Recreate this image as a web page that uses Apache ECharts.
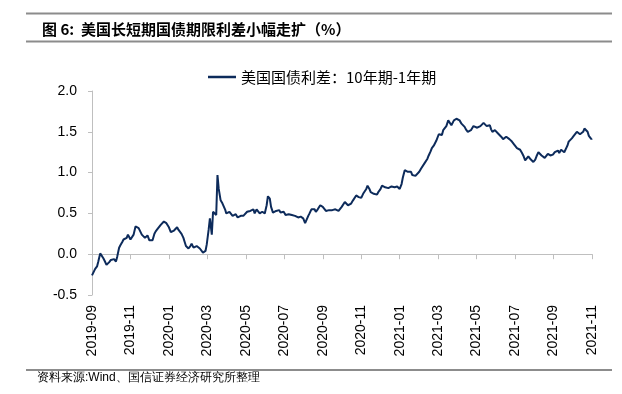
<!DOCTYPE html>
<html><head><meta charset="utf-8">
<script src="https://cdn.jsdelivr.net/npm/echarts@6/dist/echarts.min.js"></script>
<style>html,body{margin:0;padding:0;background:#fff}#c{width:622px;height:394px}</style>
</head><body><div id="c"></div>
<script>
const titleText = '图 6:  美国长短期国债期限利差小幅走扩（%）';
const sourceText = '资料来源:Wind、国信证券经济研究所整理';
const seriesName = '美国国债利差：10年期-1年期';
const startDate = '2019-09-01';
const endDate = '2021-11-02';
const xTickLabels = ['2019-09','2019-11','2020-01','2020-03','2020-05','2020-07','2020-09','2020-11','2021-01','2021-03','2021-05','2021-07','2021-09','2021-11'];
const xTickStepDays = 61;
const yMin = -0.5, yMax = 2.0, yStep = 0.5;

const dates = [
 '2019-09-01','2019-09-04','2019-09-06','2019-09-09','2019-09-11','2019-09-14','2019-09-16','2019-09-19','2019-09-21','2019-09-24','2019-09-26','2019-09-28',
 '2019-10-01','2019-10-04','2019-10-06','2019-10-09','2019-10-11','2019-10-14','2019-10-16','2019-10-19','2019-10-21','2019-10-24','2019-10-26','2019-10-28',
 '2019-11-01','2019-11-04','2019-11-06','2019-11-09','2019-11-11','2019-11-14','2019-11-16','2019-11-19','2019-11-21','2019-11-24','2019-11-26','2019-11-28',
 '2019-12-01','2019-12-04','2019-12-06','2019-12-09','2019-12-11','2019-12-14','2019-12-16','2019-12-19','2019-12-21','2019-12-24','2019-12-26','2019-12-28',
 '2020-01-01','2020-01-04','2020-01-06','2020-01-09','2020-01-11','2020-01-14','2020-01-16','2020-01-19','2020-01-21','2020-01-24','2020-01-26','2020-01-28',
 '2020-02-01','2020-02-04','2020-02-06','2020-02-09','2020-02-11','2020-02-14','2020-02-16','2020-02-19','2020-02-21','2020-02-24','2020-02-26','2020-02-28',
 '2020-03-01','2020-03-04','2020-03-06','2020-03-09','2020-03-11','2020-03-13','2020-03-16','2020-03-18','2020-03-20','2020-03-23','2020-03-26','2020-03-30',
 '2020-04-01','2020-04-04','2020-04-06','2020-04-09','2020-04-11','2020-04-14','2020-04-16','2020-04-19','2020-04-21','2020-04-24','2020-04-26','2020-04-28',
 '2020-05-01','2020-05-04','2020-05-06','2020-05-09','2020-05-11','2020-05-14','2020-05-16','2020-05-19','2020-05-21','2020-05-24','2020-05-26','2020-05-28',
 '2020-06-01','2020-06-04','2020-06-06','2020-06-09','2020-06-11','2020-06-14','2020-06-16','2020-06-19','2020-06-21','2020-06-24','2020-06-26','2020-06-28',
 '2020-07-01','2020-07-04','2020-07-06','2020-07-09','2020-07-11','2020-07-14','2020-07-16','2020-07-19','2020-07-21','2020-07-24','2020-07-26','2020-07-28',
 '2020-08-01','2020-08-04','2020-08-06','2020-08-09','2020-08-11','2020-08-14','2020-08-16','2020-08-19','2020-08-21','2020-08-24','2020-08-26','2020-08-28',
 '2020-09-01','2020-09-04','2020-09-06','2020-09-09','2020-09-11','2020-09-14','2020-09-16','2020-09-19','2020-09-21','2020-09-24','2020-09-26','2020-09-28',
 '2020-10-01','2020-10-04','2020-10-06','2020-10-09','2020-10-11','2020-10-14','2020-10-16','2020-10-19','2020-10-21','2020-10-24','2020-10-26','2020-10-28',
 '2020-11-01','2020-11-04','2020-11-06','2020-11-09','2020-11-11','2020-11-14','2020-11-16','2020-11-19','2020-11-21','2020-11-24','2020-11-26','2020-11-28',
 '2020-12-01','2020-12-04','2020-12-06','2020-12-09','2020-12-11','2020-12-14','2020-12-16','2020-12-19','2020-12-21','2020-12-24','2020-12-26','2020-12-28',
 '2021-01-01','2021-01-04','2021-01-06','2021-01-09','2021-01-11','2021-01-14','2021-01-16','2021-01-19','2021-01-21','2021-01-24','2021-01-26','2021-01-28',
 '2021-02-01','2021-02-04','2021-02-06','2021-02-09','2021-02-11','2021-02-14','2021-02-16','2021-02-19','2021-02-21','2021-02-24','2021-02-26','2021-02-28',
 '2021-03-01','2021-03-04','2021-03-06','2021-03-09','2021-03-11','2021-03-14','2021-03-16','2021-03-19','2021-03-21','2021-03-24','2021-03-26','2021-03-28',
 '2021-04-01','2021-04-04','2021-04-06','2021-04-09','2021-04-11','2021-04-14','2021-04-16','2021-04-19','2021-04-21','2021-04-24','2021-04-26','2021-04-28',
 '2021-05-01','2021-05-04','2021-05-06','2021-05-09','2021-05-11','2021-05-14','2021-05-16','2021-05-19','2021-05-21','2021-05-24','2021-05-26','2021-05-28',
 '2021-06-01','2021-06-04','2021-06-06','2021-06-09','2021-06-11','2021-06-14','2021-06-16','2021-06-19','2021-06-21','2021-06-24','2021-06-26','2021-06-28',
 '2021-07-01','2021-07-04','2021-07-06','2021-07-09','2021-07-11','2021-07-14','2021-07-16','2021-07-19','2021-07-21','2021-07-24','2021-07-26','2021-07-28',
 '2021-08-01','2021-08-04','2021-08-06','2021-08-09','2021-08-11','2021-08-14','2021-08-16','2021-08-19','2021-08-21','2021-08-24','2021-08-26','2021-08-28',
 '2021-09-01','2021-09-04','2021-09-06','2021-09-09','2021-09-11','2021-09-14','2021-09-16','2021-09-19','2021-09-21','2021-09-24','2021-09-26','2021-09-28',
 '2021-10-01','2021-10-04','2021-10-06','2021-10-09','2021-10-11','2021-10-14','2021-10-16','2021-10-19','2021-10-21','2021-10-24','2021-10-26','2021-10-28',
 '2021-11-01','2021-11-02'
];
const spread = [
 -0.26,-0.24,-0.18,-0.15,-0.09,0.01,0.00,-0.05,-0.08,-0.13,-0.12,-0.10,
 -0.07,-0.07,-0.06,-0.09,-0.03,0.08,0.11,0.15,0.18,0.20,0.20,0.24,
 0.18,0.20,0.24,0.34,0.35,0.32,0.31,0.24,0.22,0.20,0.21,0.23,
 0.17,0.15,0.17,0.25,0.28,0.31,0.32,0.36,0.38,0.40,0.39,0.38,
 0.33,0.27,0.26,0.29,0.30,0.33,0.30,0.28,0.25,0.20,0.15,0.10,
 0.07,0.10,0.13,0.08,0.09,0.10,0.11,0.07,0.06,0.02,0.02,0.04,
 0.12,0.30,0.44,0.24,0.52,0.50,0.48,0.97,0.80,0.66,0.62,0.55,
 0.50,0.49,0.52,0.53,0.47,0.49,0.49,0.45,0.43,0.47,0.46,0.47,
 0.48,0.52,0.53,0.53,0.55,0.55,0.50,0.55,0.53,0.50,0.50,0.52,
 0.50,0.60,0.71,0.68,0.58,0.51,0.52,0.53,0.53,0.54,0.51,0.50,
 0.52,0.48,0.48,0.49,0.49,0.48,0.47,0.47,0.47,0.45,0.45,0.46,
 0.44,0.38,0.40,0.47,0.50,0.55,0.57,0.55,0.52,0.55,0.57,0.60,
 0.58,0.57,0.53,0.53,0.54,0.55,0.54,0.56,0.55,0.55,0.53,0.53,
 0.58,0.60,0.64,0.65,0.60,0.60,0.62,0.66,0.65,0.72,0.71,0.70,
 0.69,0.74,0.75,0.80,0.84,0.80,0.76,0.77,0.74,0.72,0.73,0.76,
 0.79,0.84,0.83,0.82,0.80,0.81,0.81,0.83,0.82,0.82,0.81,0.83,
 0.80,0.86,0.94,1.03,1.03,1.01,1.00,1.01,0.97,0.96,0.96,0.94,
 1.01,1.05,1.07,1.11,1.12,1.17,1.21,1.26,1.30,1.33,1.36,1.39,
 1.41,1.47,1.47,1.46,1.52,1.54,1.57,1.64,1.64,1.58,1.60,1.64,
 1.66,1.66,1.64,1.60,1.61,1.56,1.53,1.50,1.50,1.52,1.53,1.57,
 1.58,1.55,1.55,1.57,1.58,1.61,1.59,1.57,1.58,1.58,1.53,1.50,
 1.52,1.52,1.48,1.46,1.44,1.41,1.43,1.44,1.42,1.41,1.42,1.38,
 1.35,1.36,1.30,1.28,1.28,1.24,1.21,1.15,1.17,1.20,1.18,1.16,
 1.13,1.16,1.20,1.25,1.25,1.21,1.20,1.18,1.19,1.23,1.23,1.21,
 1.22,1.25,1.26,1.27,1.24,1.28,1.26,1.25,1.27,1.33,1.38,1.40,
 1.42,1.45,1.47,1.50,1.48,1.47,1.47,1.50,1.54,1.54,1.50,1.45,
 1.41,1.42
];

const DAY = 86400000;
const t0 = Date.parse(startDate);
const dayIndex = d => Math.round((Date.parse(d) - t0) / DAY);
const seriesData = dates.map((d, i) => [dayIndex(d), spread[i]]);
const xMax = dayIndex(endDate);

const chart = echarts.init(document.getElementById('c'), null, {renderer: 'canvas'});
const latin = 'Liberation Sans, Arial, sans-serif';
const cjk = 'Noto Sans CJK SC, sans-serif';
const axisGray = '#bfbfbf';
const xLabelFmt = v => xTickLabels[Math.round(v / xTickStepDays)] || '';

chart.setOption({
  animation: false,
  backgroundColor: '#fff',
  title: {
    text: titleText, left: 37, top: 17,
    textStyle: {fontSize: 15, fontWeight: 'bold', color: '#000', fontFamily: cjk}
  },
  graphic: [
    {type: 'line', shape: {x1: 26, y1: 13.5, x2: 612, y2: 13.5}, style: {stroke: '#8c8c8c', lineWidth: 2}},
    {type: 'line', shape: {x1: 26, y1: 41.5, x2: 612, y2: 41.5}, style: {stroke: '#8c8c8c', lineWidth: 2}},
    {type: 'line', shape: {x1: 26, y1: 370, x2: 612, y2: 370}, style: {stroke: '#8c8c8c', lineWidth: 2}},
    {type: 'text', left: 37, top: 372, style: {text: sourceText, fontSize: 12, fill: '#000', font: '12px ' + cjk}}
  ],
  legend: {
    left: 203, top: 64, icon: 'rect', itemWidth: 28, itemHeight: 2.5,
    textStyle: {fontSize: 15, color: '#000', fontFamily: cjk, lineHeight: 16},
    data: [seriesName]
  },
  grid: {left: 92, width: 500, top: 91, bottom: 99, containLabel: false},
  xAxis: [
    {
      type: 'value', min: 0, max: xMax, interval: xTickStepDays, position: 'bottom',
      axisLine: {show: true, onZero: true, lineStyle: {color: axisGray, width: 1}},
      axisTick: {show: true, length: 5, lineStyle: {color: axisGray}},
      axisLabel: {show: false}, splitLine: {show: false}
    },
    {
      type: 'value', min: 0, max: xMax, interval: xTickStepDays, position: 'bottom',
      axisLine: {show: false, onZero: false}, axisTick: {show: false}, splitLine: {show: false},
      axisLabel: {show: true, rotate: 90, margin: 10, fontSize: 14, color: '#000', fontFamily: latin, formatter: xLabelFmt}
    }
  ],
  yAxis: {
    type: 'value', min: yMin, max: yMax, interval: yStep,
    axisLine: {show: true, lineStyle: {color: axisGray, width: 1}},
    axisTick: {show: true, length: 4, lineStyle: {color: axisGray}},
    axisLabel: {fontSize: 14, color: '#000', fontFamily: latin, margin: 15, formatter: v => v.toFixed(1)},
    splitLine: {show: false}
  },
  series: [{
    name: seriesName, type: 'line', xAxisIndex: 0, data: seriesData, symbol: 'none',
    lineStyle: {color: '#0d2b5b', width: 2}, itemStyle: {color: '#0d2b5b'}
  }]
});
</script></body></html>
